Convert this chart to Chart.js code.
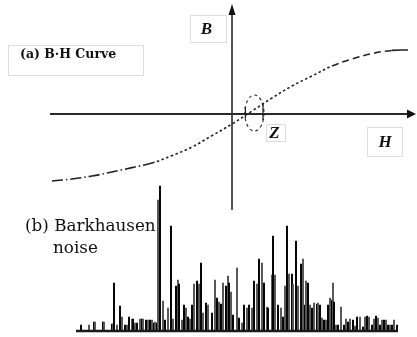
<!DOCTYPE html>
<html lang="en">
<head>
<meta charset="UTF-8">
<title>B-H curve and Barkhausen noise</title>
<script src="https://cdn.jsdelivr.net/npm/chart.js@4.4.1/dist/chart.umd.min.js"></script>
<style>
  html, body { margin: 0; padding: 0; background: #fff; overflow: hidden; }
  #wrap { position: relative; width: 417px; height: 337px; }
  #wrap canvas { position: absolute; left: 0; top: 0; }
  .lbl { position: absolute; border: 1px solid #ddd; box-sizing: border-box; color: #111; white-space: nowrap; }
  .sym { font-family: "Liberation Serif", serif; font-style: italic; font-weight: bold; font-size: 17px; text-align: center; }
</style>
</head>
<body>
<div id="wrap">
  <canvas id="bhChart" width="417" height="337"></canvas>
  <canvas id="noiseChart" width="417" height="337"></canvas>

  <div class="lbl" style="left:8px;top:45px;width:136px;height:31px;line-height:29px;padding-left:11px;font:bold 12.5px 'DejaVu Serif',serif;">(a) B·H Curve</div>
  <div class="lbl sym" style="left:190px;top:15px;width:37px;height:28px;line-height:26px;padding-right:4px;">B</div>
  <div class="lbl sym" style="left:266px;top:124px;width:20px;height:18px;line-height:16px;padding-right:3px;">Z</div>
  <div class="lbl sym" style="left:367px;top:127px;width:36px;height:30px;line-height:28px;">H</div>
  <div style="position:absolute;left:25px;top:214px;font:16.8px 'DejaVu Serif',serif;line-height:22px;color:#111;">
    (b) Barkhausen<br><span style="padding-left:28px;">noise</span>
  </div>
</div>

<script>
  // (a) B-H curve
  const hValues = [-9, -8, -7, -6, -5, -4, -3, -2, -1, 0, 1, 2, 3, 4, 5, 6, 7, 8, 8.8];
  const bValues = [-3.35, -3.25, -3.1, -2.9, -2.68, -2.45, -2.08, -1.65, -1.08, -0.5,
                   0.15, 0.8, 1.4, 1.9, 2.4, 2.75, 3.02, 3.18, 3.2];
  const hAxisRange = [-9.1, 9.2];
  const bAxisRange = [-4.8, 5.5];
  // small marks around the Z region: [H, B from, B to]
  const zTicks = [[0.67, 0.35, -0.2], [1.55, 0.55, -0.3]];
  const zLoop = { h: 1.12, b: 0.05, rh: 0.48, rb: 0.9 };

  // (b) Barkhausen noise, sample position and amplitude
  const noiseT = [3, 11, 16, 17, 25, 26, 34, 35, 36, 39,
                  42, 44, 47, 49, 51, 54, 55, 57, 59, 62,
                  64, 65, 68, 70, 72, 74, 76, 77, 79, 80,
                  82, 85, 87, 90, 93, 95, 98, 100, 101, 104,
                  106, 108, 110, 112, 114, 116, 119, 121, 123, 125,
                  128, 130, 134, 137, 139, 141, 143, 145, 148, 150,
                  151, 153, 155, 159, 161, 164, 166, 169, 171, 174,
                  176, 179, 181, 184, 186, 189, 190, 194, 195, 197,
                  200, 203, 205, 207, 209, 211, 214, 215, 218, 220,
                  223, 225, 227, 228, 230, 232, 234, 236, 239, 240,
                  242, 244, 246, 248, 250, 252, 254, 255, 256, 258,
                  260, 263, 266, 268, 270, 272, 275, 277, 279, 282,
                  285, 287, 289, 291, 294, 296, 298, 300, 302, 304,
                  306, 308, 310, 312, 314, 316, 319];
  const noiseAmp = [6, 6, 9, 9, 9, 9, 7, 7, 48, 6,
                    25, 14, 6, 6, 14, 12, 12, 8, 8, 12,
                    12, 12, 11, 11, 11, 11, 8, 9, 8, 131,
                    145, 30, 11, 23, 105, 12, 45, 51, 47, 11,
                    26, 23, 14, 12, 26, 47, 50, 47, 68, 18,
                    28, 26, 18, 51, 33, 29, 27, 48, 45, 55,
                    48, 39, 16, 63, 13, 8, 26, 23, 26, 23,
                    50, 47, 72, 68, 48, 24, 23, 56, 95, 56,
                    26, 23, 14, 45, 105, 57, 57, 47, 90, 45,
                    67, 72, 26, 50, 48, 26, 23, 28, 27, 28,
                    26, 13, 11, 11, 26, 33, 31, 48, 29, 6,
                    6, 24, 6, 12, 9, 12, 11, 5, 14, 14,
                    4, 14, 15, 14, 6, 12, 15, 13, 6, 11,
                    11, 11, 6, 6, 6, 11, 6];

  const bhDecor = {
    id: 'bhDecor',
    beforeDatasetsDraw(chart) {
      const { ctx, scales: { x, y } } = chart;
      const ox = x.getPixelForValue(0), oy = y.getPixelForValue(0);
      ctx.save();
      ctx.strokeStyle = '#2a2a2a';
      ctx.fillStyle = '#111';
      // H axis with arrow
      const hL = x.getPixelForValue(hAxisRange[0]), hR = x.getPixelForValue(hAxisRange[1]);
      ctx.lineWidth = 2;
      ctx.beginPath(); ctx.moveTo(hL, oy); ctx.lineTo(hR - 6, oy); ctx.stroke();
      ctx.beginPath(); ctx.moveTo(hR, oy); ctx.lineTo(hR - 9, oy - 4.5); ctx.lineTo(hR - 9, oy + 4.5); ctx.closePath(); ctx.fill();
      // B axis with arrow
      const bB = y.getPixelForValue(bAxisRange[0]), bT = y.getPixelForValue(bAxisRange[1]);
      ctx.lineWidth = 1.6;
      ctx.beginPath(); ctx.moveTo(ox, bB); ctx.lineTo(ox, bT + 6); ctx.stroke();
      ctx.beginPath(); ctx.moveTo(ox, bT); ctx.lineTo(ox - 3.5, bT + 11); ctx.lineTo(ox + 3.5, bT + 11); ctx.closePath(); ctx.fill();
      ctx.restore();
    },
    afterDatasetsDraw(chart) {
      const { ctx, scales: { x, y } } = chart;
      ctx.save();
      ctx.strokeStyle = '#222';
      ctx.lineWidth = 1.3;
      zTicks.forEach(t => {
        const px = x.getPixelForValue(t[0]);
        ctx.beginPath(); ctx.moveTo(px, y.getPixelForValue(t[1])); ctx.lineTo(px, y.getPixelForValue(t[2])); ctx.stroke();
      });
      const cx = x.getPixelForValue(zLoop.h), cy = y.getPixelForValue(zLoop.b);
      const rx = x.getPixelForValue(zLoop.h + zLoop.rh) - cx;
      const ry = cy - y.getPixelForValue(zLoop.b + zLoop.rb);
      ctx.setLineDash([3, 3]);
      ctx.lineWidth = 1.1;
      ctx.beginPath(); ctx.ellipse(cx, cy, rx, ry, 0, 0, Math.PI * 2); ctx.stroke();
      ctx.restore();
    }
  };

  new Chart(document.getElementById('bhChart'), {
    type: 'scatter',
    data: {
      datasets: [{
        data: hValues.map((h, i) => ({ x: h, y: bValues[i] })),
        showLine: true,
        borderColor: '#222',
        borderWidth: 1.6,
        pointRadius: 0,
        tension: 0.4,
        segment: {
          borderDash: c => {
            const h = c.p0.parsed.x;
            if (h >= 8) return [];
            if (h < -4) return [11, 3, 1.5, 3];
            if (h >= 5) return [7, 4];
            return [2.5, 2.5];
          }
        }
      }]
    },
    options: {
      responsive: false,
      animation: false,
      devicePixelRatio: 1,
      layout: { padding: 0 },
      plugins: { legend: { display: false }, tooltip: { enabled: false } },
      scales: {
        x: { type: 'linear', display: false, min: -11.6, max: 9.25 },
        y: { type: 'linear', display: false, min: -11.15, max: 5.7 }
      }
    },
    plugins: [bhDecor]
  });

  const noiseBase = {
    id: 'noiseBase',
    afterDatasetsDraw(chart) {
      const { ctx, scales: { x, y } } = chart;
      const py = y.getPixelForValue(0);
      ctx.save();
      ctx.strokeStyle = '#1a1a1a';
      ctx.lineWidth = 2.6;
      ctx.beginPath();
      ctx.moveTo(x.getPixelForValue(-2), py);
      ctx.lineTo(x.getPixelForValue(noiseT[noiseT.length - 1] + 1), py);
      ctx.stroke();
      ctx.restore();
    }
  };

  new Chart(document.getElementById('noiseChart'), {
    type: 'bar',
    data: {
      datasets: [{
        data: noiseT.map((t, i) => ({ x: t, y: noiseAmp[i] })),
        backgroundColor: c => (c.dataIndex % 2 ? '#555' : '#000'),
        borderWidth: 0,
        barThickness: 1.3
      }]
    },
    options: {
      responsive: false,
      animation: false,
      devicePixelRatio: 1,
      layout: { padding: 0 },
      plugins: { legend: { display: false }, tooltip: { enabled: false } },
      scales: {
        x: { type: 'linear', display: false, min: -78, max: 339, offset: false, grid: { offset: false } },
        y: { type: 'linear', display: false, min: -6, max: 331 }
      }
    },
    plugins: [noiseBase]
  });
</script>
</body>
</html>
